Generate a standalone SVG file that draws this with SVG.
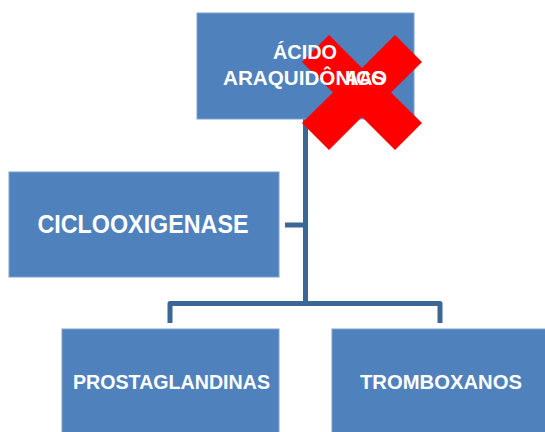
<svg xmlns="http://www.w3.org/2000/svg" width="545" height="432" viewBox="0 0 545 432">
<style>
.box{fill:#4F81BD;stroke:#7EA1CC;stroke-width:1}
.t{font-family:"Liberation Sans","Open Sans",sans-serif;font-weight:bold;fill:#FFFFFF;text-anchor:middle}
.conn{fill:none;stroke:#3C6696;stroke-width:5;stroke-linejoin:round}
</style>
<rect width="545" height="432" fill="#FFFFFF"/>
<g id="connectors">
<path class="conn" d="M305.5,119 V303.5"/>
<path class="conn" d="M285,225 H305.5"/>
<path class="conn" d="M170,323 V303.5 H440 V323"/>
</g>
<g id="acido">
<rect class="box" x="197" y="13" width="217" height="106"/>
</g>
<g id="aas">
<polygon fill="#FF0000" points="302,62 329,35 362,68 395,35 422,62 391,92.5 422,123 395,150 362,117 329,150 302,123 333,92.5"/>
</g>
<g id="acido-text">
<text class="t" x="305" y="59" font-size="20" textLength="64" lengthAdjust="spacingAndGlyphs">ÁCIDO</text>
<text class="t" x="305" y="85" font-size="20" textLength="164" lengthAdjust="spacingAndGlyphs">ARAQUIDÔNICO</text>
<text class="t" x="365" y="85" font-size="20" textLength="40" lengthAdjust="spacingAndGlyphs">AAS</text>
</g>
<g id="ciclooxigenase">
<rect class="box" x="9" y="172" width="270" height="105"/>
<text class="t" x="143" y="233" font-size="25" textLength="211" lengthAdjust="spacingAndGlyphs">CICLOOXIGENASE</text>
</g>
<g id="prostaglandinas">
<rect class="box" x="62" y="329" width="217" height="110"/>
<text class="t" x="171.5" y="389" font-size="19.5" textLength="197" lengthAdjust="spacingAndGlyphs">PROSTAGLANDINAS</text>
</g>
<g id="tromboxanos">
<rect class="box" x="332" y="329" width="220" height="110"/>
<text class="t" x="441" y="389" font-size="19.5" textLength="162" lengthAdjust="spacingAndGlyphs">TROMBOXANOS</text>
</g>
</svg>
